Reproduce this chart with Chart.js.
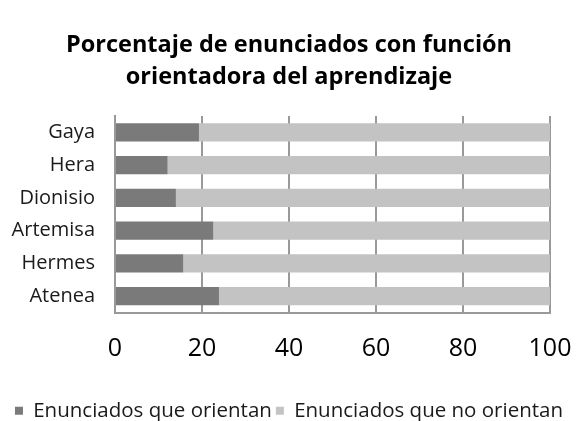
<!DOCTYPE html>
<html>
<head>
<meta charset="utf-8">
<script src="https://cdn.jsdelivr.net/npm/chart.js@4"></script>
<style>
	html, body { margin: 0; padding: 0; background: #fff; }
	#wrap { width: 578px; height: 421px; }
</style>
</head>
<body>
<div id="wrap"><canvas id="chart"></canvas></div>
<script>
const nombres = ["Gaya", "Hera", "Dionisio", "Artemisa", "Hermes", "Atenea"]
const orientan = [19.3, 12.1, 14, 22.6, 15.7, 23.9]
const noOrientan = [80.7, 87.9, 86, 77.4, 84.3, 76.1]
const ticksX = [0, 20, 40, 60, 80, 100]

const fuente = "'Open Sans', sans-serif"

new Chart(document.getElementById("chart"), {
	type: "bar",
	data: {
		labels: nombres,
		datasets: [{
			label: "Enunciados que orientan",
			data: orientan,
			backgroundColor: "rgb(122, 122, 122)",
			barPercentage: 0.56,
			categoryPercentage: 1
		}, {
			label: "Enunciados que no orientan",
			data: noOrientan,
			backgroundColor: "rgb(195, 195, 195)",
			barPercentage: 0.56,
			categoryPercentage: 1
		}]
	},
	options: {
		indexAxis: "y",
		responsive: true,
		maintainAspectRatio: false,
		animation: false,
		layout: { padding: { left: 0, right: 0, top: 0, bottom: -10 } },
		plugins: {
			title: {
				display: true,
				text: ["Porcentaje de enunciados con función", "orientadora del aprendizaje"],
				color: "#000",
				font: { family: fuente, size: 23.5, weight: "bold", lineHeight: 1.36 },
				padding: { top: 29, bottom: 23 }
			},
			legend: {
				position: "bottom",
				labels: {
					color: "#1a1a1a",
					font: { family: fuente, size: 20.5 },
					boxWidth: 8,
					boxHeight: 8,
					padding: 4
				}
			},
			tooltip: { enabled: false }
		},
		scales: {
			x: {
				stacked: true,
				min: 0,
				max: 100,
				afterBuildTicks: axis => { axis.ticks = ticksX.map(v => ({ value: v })) },
				afterFit: axis => { axis.height = 84; axis.paddingRight = 28 },
				grid: { color: "#999", lineWidth: 2, drawTicks: false },
				border: { display: true, color: "#999", width: 2 },
				ticks: { color: "#000", font: { family: fuente, size: 25 }, padding: 21 }
			},
			y: {
				stacked: true,
				afterFit: axis => { axis.width = 115 },
				grid: { display: false, drawTicks: false },
				border: { display: true, color: "#999", width: 2 },
				ticks: { color: "#1a1a1a", font: { family: fuente, size: 20 }, padding: 20 }
			}
		}
	}
})
</script>
</body>
</html>
